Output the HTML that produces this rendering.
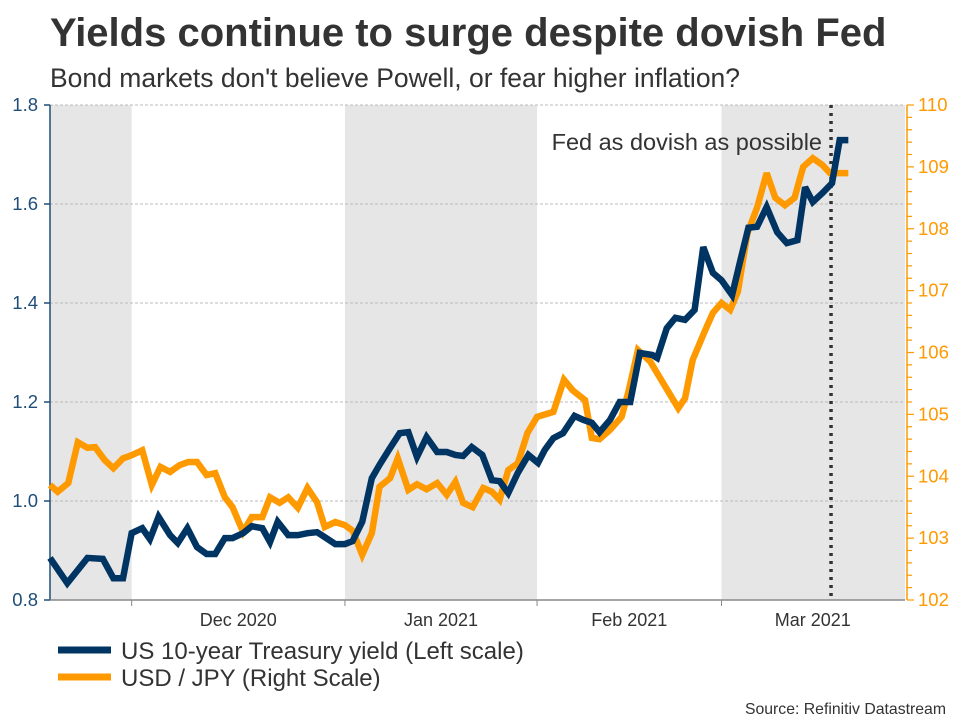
<!DOCTYPE html>
<html><head><meta charset="utf-8"><style>
body{margin:0;background:#fff;width:960px;height:720px;overflow:hidden;font-family:"Liberation Sans",Arial,sans-serif}
</style></head><body>
<svg id="chart" width="960" height="720" xmlns="http://www.w3.org/2000/svg" font-family="Liberation Sans, Arial, sans-serif">
<text x="50" y="46" font-size="40" font-weight="bold" fill="#333">Yields continue to surge despite dovish Fed</text>
<text x="50" y="87" font-size="26.5" fill="#333">Bond markets don't believe Powell, or fear higher inflation?</text>
<g id="bands"></g><g id="grid"></g><g id="axes"></g><g id="lines"></g>
<text x="822" y="150" font-size="23.5" fill="#333" text-anchor="end">Fed as dovish as possible</text>
<g>
<line x1="58" y1="650" x2="111" y2="650" stroke="#003462" stroke-width="7"/>
<text x="121" y="659" font-size="24" fill="#333">US 10-year Treasury yield (Left scale)</text>
<line x1="58" y1="677" x2="111" y2="677" stroke="#ff9900" stroke-width="7"/>
<text x="121" y="686" font-size="24" fill="#333">USD / JPY (Right Scale)</text>
</g>
<text x="946" y="714" font-size="15.8" fill="#333" text-anchor="end">Source: Refinitiv Datastream</text>
</svg>
<script>
const yieldT=[0,1.8,3.9,5.5,6.6,7.6,8.5,9.6,10.4,11.3,12.5,13.3,14.3,15.3,16.3,17.2,18.2,19.0,20.1,21.0,22.1,22.9,23.7,24.8,25.8,26.8,27.8,28.6,29.7,30.7,31.5,32.5,33.5,34.3,35.4,36.4,37.3,38.2,39.2,40.3,41.3,42.2,43.0,43.9,45.0,46.0,46.8,47.7,48.7,49.8,50.8,51.5,52.4,53.4,54.6,55.5,56.4,57.2,58.3,59.3,60.4,61.4,62.7,63.2,64.2,65.1,66.1,67.1,68.0,69.0,69.9,71.0,71.8,72.7,73.6,74.6,75.7,76.7,77.8,78.6,79.4,80.4,81.4,82.2,83.1];
const yieldValues=[0.885,0.834,0.885,0.883,0.844,0.844,0.935,0.945,0.923,0.968,0.931,0.915,0.945,0.907,0.893,0.893,0.925,0.925,0.935,0.949,0.945,0.917,0.958,0.931,0.931,0.935,0.937,0.927,0.913,0.913,0.919,0.958,1.046,1.073,1.107,1.137,1.139,1.089,1.129,1.099,1.099,1.093,1.091,1.109,1.093,1.042,1.040,1.016,1.057,1.093,1.077,1.103,1.127,1.137,1.172,1.164,1.158,1.139,1.164,1.200,1.200,1.299,1.295,1.289,1.349,1.370,1.366,1.386,1.513,1.461,1.446,1.416,1.481,1.552,1.554,1.594,1.543,1.521,1.527,1.634,1.604,1.622,1.642,1.729,1.729];
const jpyT=[0,0.8,1.9,2.9,3.9,4.7,5.7,6.6,7.6,8.5,9.6,10.6,11.5,12.5,13.5,14.4,15.3,16.3,17.2,18.2,19.0,20.1,21.0,22.1,22.9,23.9,24.8,25.8,26.8,27.8,28.6,29.7,30.7,31.5,32.5,33.5,34.3,35.4,36.2,37.3,38.2,39.2,40.3,41.3,42.2,43.0,44.0,45.1,46.0,46.8,47.7,48.7,49.7,50.7,52.4,53.5,54.4,55.7,56.4,57.2,58.3,59.5,60.2,61.2,62.5,63.5,64.7,65.4,66.1,66.9,68.2,69.0,69.9,70.8,71.6,72.6,73.6,74.6,75.5,76.5,77.5,78.4,79.4,80.4,81.2,82.0,83.1];
const jpyValues=[103.86,103.75,103.89,104.55,104.46,104.47,104.26,104.13,104.29,104.34,104.42,103.86,104.15,104.07,104.18,104.23,104.23,104.02,104.05,103.66,103.50,103.10,103.34,103.34,103.66,103.57,103.66,103.49,103.81,103.58,103.18,103.26,103.21,103.12,102.73,103.08,103.83,103.97,104.29,103.78,103.87,103.79,103.89,103.70,103.91,103.57,103.50,103.81,103.75,103.62,104.10,104.21,104.70,104.96,105.04,105.56,105.39,105.23,104.62,104.60,104.75,104.96,105.36,106.04,105.85,105.59,105.28,105.10,105.26,105.88,106.36,106.64,106.80,106.69,106.98,107.93,108.34,108.90,108.50,108.38,108.50,109.00,109.14,109.03,108.90,108.90,108.90];
const monthTicks=[8.5,30.7,50.7,69.9];
const monthLabels=["Dec 2020","Jan 2021","Feb 2021","Mar 2021"];
const shadedBands=[[0,8.5],[30.7,50.7],[69.9,89]];
const leftTicks=[0.8,1.0,1.2,1.4,1.6,1.8];
const rightTicks=[102,103,104,105,106,107,108,109,110];
const fedDay=81.3;

const X0=50,X1=905,Y0=600,Y1=105;
const x=t=>X0+t/89*(X1-X0);
const yL=v=>Y0-(v-0.8)/1.0*(Y0-Y1);
const yR=v=>Y0-(v-102)/8*(Y0-Y1);
const NS="http://www.w3.org/2000/svg";
function mk(tag,attrs,parent){const e=document.createElementNS(NS,tag);for(const k in attrs)e.setAttribute(k,attrs[k]);document.getElementById(parent).appendChild(e);return e;}

shadedBands.forEach(b=>{
 const r=mk('rect',{x:x(b[0]),y:Y1,width:x(b[1])-x(b[0]),height:Y0-Y1,fill:'#e6e6e6'},'bands');
 
 
});
leftTicks.forEach(v=>{
 if(v>0.8){const g=mk('line',{x1:X0,x2:X1,y1:yL(v),y2:yL(v),stroke:'#bbb','stroke-dasharray':'3,2','stroke-width':1},'grid');
 
 }
 const t=mk('text',{x:X0-12,y:yL(v)+6,'font-size':18.5,fill:'#1f4e79','text-anchor':'end'},'axes');
 t.textContent=v.toFixed(1);
 
 
 mk('line',{x1:X0-6,x2:X0,y1:yL(v),y2:yL(v),stroke:'#1f4e79','stroke-width':1.5},'axes');
});
const la=mk('line',{x1:X0,x2:X0,y1:Y1,y2:Y0,stroke:'#1f4e79','stroke-width':1.5},'axes');


const xa=mk('line',{x1:X0,x2:X1,y1:Y0,y2:Y0,stroke:'#888','stroke-width':1.5},'axes');


const ra=mk('line',{x1:X1+2,x2:X1+2,y1:Y1,y2:Y0,stroke:'#ff9900','stroke-width':1.5},'axes');


for(let v=102;v<=110.001;v+=0.2){const maj=Math.abs(v-Math.round(v))<0.01;mk('line',{x1:X1+2,x2:X1+(maj?9:7),y1:yR(v),y2:yR(v),stroke:'#ff9900','stroke-width':1.2},'axes');}
rightTicks.forEach(v=>{
 const t=mk('text',{x:X1+13,y:yR(v)+6,'font-size':18.5,fill:'#ff9900'},'axes');
 t.textContent=v;
 
 
});
monthTicks.forEach((m,i)=>{
 mk('line',{x1:x(m),x2:x(m),y1:Y0,y2:Y0+6,stroke:'#888','stroke-width':1},'axes');
 const nx=i<monthTicks.length-1?monthTicks[i+1]:m+19;
 const t=mk('text',{x:(x(m)+x(nx))/2,y:626,'font-size':18,fill:'#333','text-anchor':'middle'},'axes');
 t.textContent=monthLabels[i];
 
 
});
const fl=mk('line',{x1:x(fedDay),x2:x(fedDay),y1:Y1,y2:Y0,stroke:'#333','stroke-width':3.5,'stroke-dasharray':'3,5'},'lines');


const jp=mk('polyline',{points:jpyT.map((t,i)=>x(t)+','+yR(jpyValues[i])).join(' '),fill:'none',stroke:'#ff9900','stroke-width':6.5,'stroke-linejoin':'miter','stroke-miterlimit':3},'lines');


const yl=mk('polyline',{points:yieldT.map((t,i)=>x(t)+','+yL(yieldValues[i])).join(' '),fill:'none',stroke:'#003462','stroke-width':6.5,'stroke-linejoin':'miter','stroke-miterlimit':3},'lines');


</script>
</body></html>
